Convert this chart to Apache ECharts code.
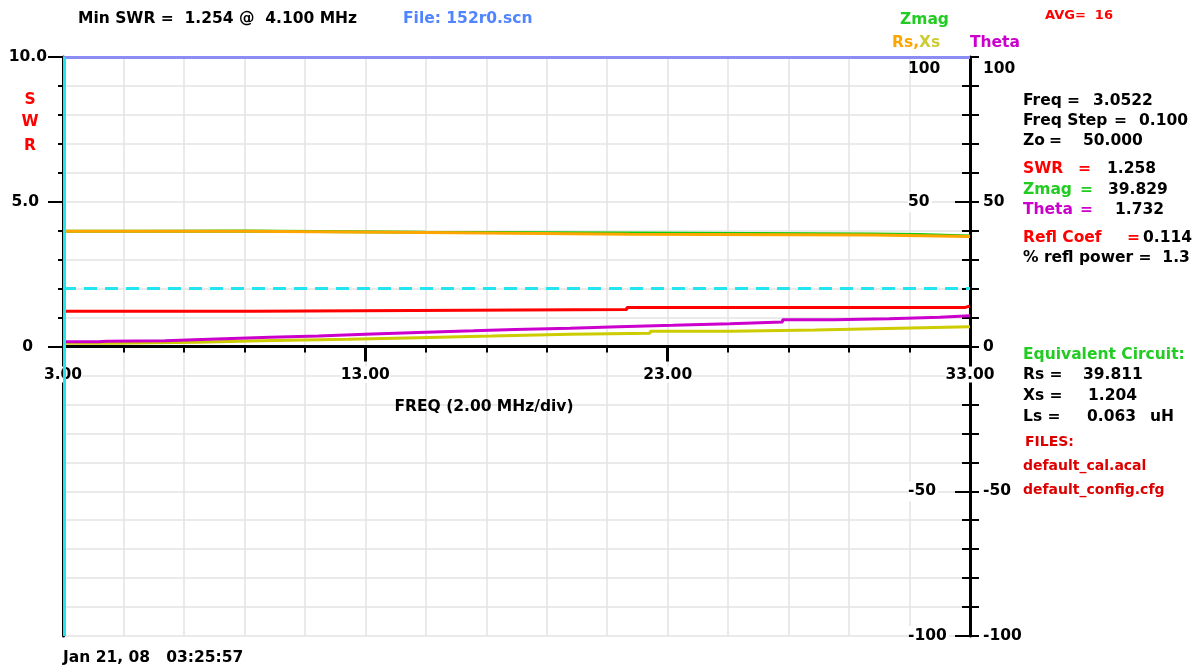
<!DOCTYPE html>
<html><head><meta charset="utf-8">
<script src="https://cdn.jsdelivr.net/npm/echarts@6/dist/echarts.min.js"></script>
<style>html,body{margin:0;padding:0;background:#fff}#c{width:1204px;height:669px}</style>
</head><body><div id="c"></div>
<script>
// ---- axes ----
const freqMin = 3, freqMax = 33;
const freqTicks = [3,5,7,9,11,13,15,17,19,21,23,25,27,29,31,33];
const freqLabels = [3,13,23,33];
const freqMajor = [3,13,23,33];
const swrMin = -10, swrMax = 10;
const swrTicks = [0,1,2,3,4,5,6,7,8,9,10];
const swrLabels = [0,5,10];
const swrMajor = [0,5,10];
const rightMin = -100, rightMax = 100;
const rightTicks = [-100,-90,-80,-70,-60,-50,-40,-30,-20,-10,0,10,20,30,40,50,60,70,80,90,100];
const rightInnerLabels = [-100,-50,50,100];
const rightOuterLabels = [-100,-50,0,50,100];
const rightMajor = [-100,-50,0,50,100];

// ---- series (freq MHz, value) : step points ----
const swrData   = [[3,1.22],[9.3,1.28],[21.65,1.35],[32.85,1.40],[33,1.40]];
const zmagData  = [[3,39.8],[5.8,39.9],[9.0,39.45],[15.0,39.2],[21.75,38.9],[29.8,38.7],[31.3,38.2],[33,38.2]];
const rsData    = [[3,39.8],[9.0,39.4],[15.0,38.8],[21.75,38.5],[29.8,38.0],[33,38.0]];
const xsData    = [[3,1.1],[4.72,1.45],[7.42,2.0],[9.52,2.5],[12.44,3.05],[14.75,3.6],[17.18,4.2],[19.77,4.55],[22.42,5.25],[25.06,5.7],[27.88,6.3],[30.63,6.85],[33,6.85]];
const thetaData = [[3,1.6],[4.17,1.8],[4.44,2.0],[6.37,2.6],[8.08,3.2],[9.85,3.6],[11.45,4.2],[12.99,4.8],[14.75,5.4],[16.57,5.9],[17.95,6.3],[19.77,6.8],[21.37,7.3],[23.17,7.9],[25.06,8.5],[26.8,9.2],[28.5,9.6],[30.32,10.1],[32.0,10.6],[33,10.6]];
const swrLimit = 2.0;
const swrTop = 10;
const cursorFreq = 3.0522;

const FONT = '"DejaVu Sans"';
const chart = echarts.init(document.getElementById('c'), null, {renderer:'canvas'});

function T(x, y, text, fill, size, align) {
  return {type:'text', x:x, y:y, z:100, silent:true,
    style:{text:text, fill:fill, font:'bold ' + (size||15.5) + 'px ' + FONT, align:align||'left', verticalAlign:'middle'}};
}
const black = '#000', red = '#ff0000', green = '#22cc22', mag = '#cc00cc';

const graphics = [
  T(78,19,'Min SWR =  1.254 @  4.100 MHz',black),
  T(403,19,'File: 152r0.scn','#5085ff'),
  T(900,20,'Zmag',green),
  T(1045,16,'AVG=  16',red,13),
  {type:'text', x:892, y:43, z:100, silent:true, style:{text:'{o|Rs,}{y|Xs}', font:'bold 15.5px ' + FONT, verticalAlign:'middle',
    rich:{o:{fill:'#ffa500', font:'bold 15.5px ' + FONT}, y:{fill:'#cccc33', font:'bold 15.5px ' + FONT}}}},
  T(970,43,'Theta',mag),
  T(30,100,'S',red,15.5,'center'),
  T(30,122,'W',red,15.5,'center'),
  T(30,146,'R',red,15.5,'center'),
  T(1023,101,'Freq',black), T(1067,101,'=',black), T(1093,101,'3.0522',black),
  T(1023,121,'Freq Step',black), T(1114,121,'=',black), T(1139,121,'0.100',black),
  T(1023,141,'Zo',black), T(1049,141,'=',black), T(1083,141,'50.000',black),
  T(1023,169,'SWR',red), T(1078,169,'=',red), T(1107,169,'1.258',black),
  T(1023,190,'Zmag',green), T(1080,190,'=',green), T(1108,190,'39.829',black),
  T(1023,210,'Theta',mag), T(1080,210,'=',mag), T(1115,210,'1.732',black),
  T(1023,238,'Refl Coef',red), T(1127,238,'=',red), T(1143,238,'0.114',black),
  T(1023,258,'% refl power =  1.3',black),
  T(1023,355,'Equivalent Circuit:',green),
  T(1023,375,'Rs =',black), T(1083,375,'39.811',black),
  T(1023,396,'Xs =',black), T(1088,396,'1.204',black),
  T(1023,417,'Ls =',black), T(1087,417,'0.063',black), T(1150,417,'uH',black),
  T(1025,442,'FILES:','#dd0000',14),
  T(1023,466,'default_cal.acal','#dd0000',14),
  T(1023,490,'default_config.cfg','#dd0000',14),
  T(484,407,'FREQ (2.00 MHz/div)',black,15.5,'center'),
  T(63,658,'Jan 21, 08   03:25:57',black)
];

const lblFont = {fontFamily:FONT, fontWeight:'bold', fontSize:15.5, color:'#000'};
const gridColor = '#e3e3e3';
const GRID_TOP = 57, GRID_BOTTOM = 33, H = 669;
const zeroOffset = -((H - GRID_TOP - GRID_BOTTOM) / 2);

function stepSeries(name, data, color, yIdx, extra) {
  return Object.assign({name:name, type:'line', data:data, step:'end', xAxisIndex:0, yAxisIndex:yIdx,
    showSymbol:false, symbol:'none', animation:false, silent:true,
    lineStyle:{color:color, width:3}, itemStyle:{color:color}}, extra||{});
}

const option = {
  animation:false,
  backgroundColor:'#fff',
  grid:{left:63, right:234, top:GRID_TOP, bottom:GRID_BOTTOM, containLabel:false},
  xAxis:[
    {type:'value', min:freqMin, max:freqMax, position:'bottom', offset:zeroOffset,
     axisLine:{show:true, onZero:false, lineStyle:{color:'#000', width:3}},
     axisTick:{show:true, customValues:freqTicks, length:6, lineStyle:{color:'#000', width:2}},
     splitLine:{show:true, lineStyle:{color:gridColor, width:1.5}},
     axisLabel:Object.assign({show:true, customValues:freqLabels, margin:20, backgroundColor:'#fff',
       formatter:v => v.toFixed(2)}, lblFont)},
    {type:'value', min:freqMin, max:freqMax, position:'bottom', offset:zeroOffset,
     axisLine:{show:false, onZero:false},
     axisTick:{show:true, customValues:freqMajor, length:15, lineStyle:{color:'#000', width:3}},
     splitLine:{show:false}, axisLabel:{show:false}}
  ],
  yAxis:[
    {type:'value', min:swrMin, max:swrMax, position:'left',
     axisLine:{show:true, onZero:false, lineStyle:{color:'#000', width:3}},
     axisTick:{show:true, customValues:swrTicks, length:5, lineStyle:{color:'#000', width:2}},
     splitLine:{show:false},
     axisLabel:Object.assign({show:true, customValues:swrLabels, margin:16,
       formatter:v => v === 10 ? '10.0' : (v === 5 ? '{a|5.0}' : '{b|0}'),
       rich:{a:Object.assign({padding:[0,8,0,0]}, lblFont), b:Object.assign({padding:[0,14,0,0]}, lblFont)}}, lblFont)},
    {type:'value', min:rightMin, max:rightMax, position:'right',
     axisLine:{show:true, onZero:false, lineStyle:{color:'#000', width:3}},
     axisTick:{show:true, inside:true, customValues:rightTicks, length:8, lineStyle:{color:'#000', width:2}},
     splitLine:{show:true, lineStyle:{color:gridColor, width:1.5}},
     axisLabel:Object.assign({show:true, inside:true, align:'left', customValues:rightInnerLabels, margin:62,
       formatter:v => v === 100 ? '{t|100}' : '{n|' + v + '}',
       rich:{t:Object.assign({padding:[24,0,0,0]}, lblFont), n:Object.assign({backgroundColor:'#fff', padding:[2,2,2,0]}, lblFont)}}, lblFont)},
    {type:'value', min:rightMin, max:rightMax, position:'right',
     axisLine:{show:false, onZero:false},
     axisTick:{show:true, inside:false, customValues:rightTicks, length:9, lineStyle:{color:'#000', width:2}},
     splitLine:{show:false},
     axisLabel:Object.assign({show:true, customValues:rightOuterLabels, margin:13, align:'left',
       formatter:v => v === 100 ? '{t|100}' : '{n|' + v + '}',
       rich:{t:Object.assign({padding:[24,0,0,0]}, lblFont), n:lblFont}}, lblFont)},
    {type:'value', min:rightMin, max:rightMax, position:'right',
     axisLine:{show:false, onZero:false},
     axisTick:{show:true, inside:true, customValues:rightMajor, length:15, lineStyle:{color:'#000', width:2}},
     splitLine:{show:false}, axisLabel:{show:false}},
    {type:'value', min:swrMin, max:swrMax, position:'left',
     axisLine:{show:false, onZero:false},
     axisTick:{show:true, customValues:swrMajor, length:15, lineStyle:{color:'#000', width:2}},
     splitLine:{show:false}, axisLabel:{show:false}}
  ],
  series:[
    {name:'SWR limit', type:'line', data:[], xAxisIndex:0, yAxisIndex:0, animation:false, silent:true,
     markLine:{silent:true, symbol:'none', label:{show:false}, animation:false,
       data:[
         {yAxis:swrLimit, lineStyle:{color:'#22e5f0', width:3, type:[13,8]}},
         {yAxis:swrTop, lineStyle:{color:'#8c8cf5', width:3, type:'solid'}}
       ]}},
    stepSeries('Xs', xsData, '#cccc00', 1),
    stepSeries('Theta', thetaData, mag, 2),
    stepSeries('SWR', swrData, '#ff0000', 0),
    stepSeries('Zmag', zmagData, '#11cc11', 1),
    stepSeries('Rs', rsData, '#ffa500', 1),
    {name:'Cursor', type:'line', data:[], xAxisIndex:0, yAxisIndex:0, animation:false, silent:true,
     markLine:{silent:true, symbol:'none', label:{show:false}, animation:false,
       data:[{xAxis:cursorFreq, lineStyle:{color:'#22e5f0', width:3, type:'solid'}}]}}
  ],
  graphic:graphics
};
chart.setOption(option);
</script></body></html>
